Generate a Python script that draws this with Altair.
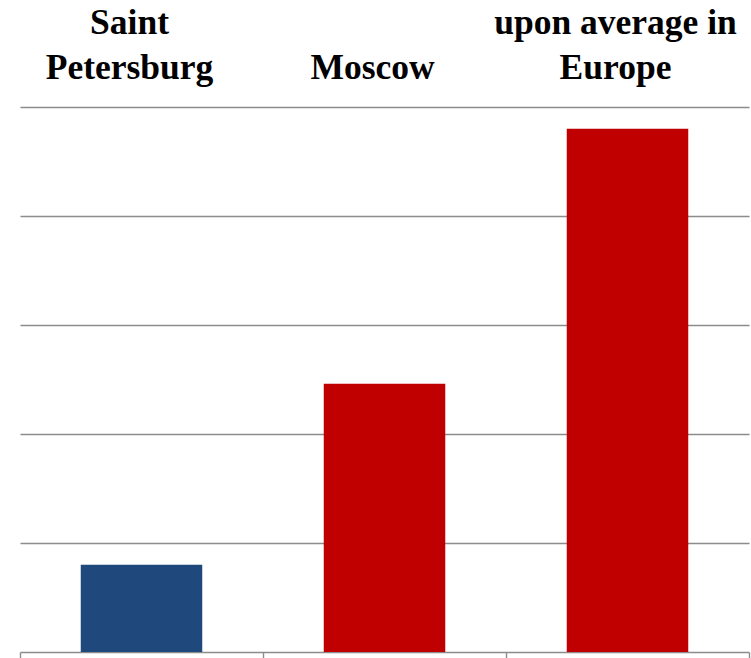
import altair as alt
import pandas as pd

categories = ["Saint|Petersburg", "Moscow", "upon average in|Europe"]
values = [0.80, 2.46, 4.80]
colors = ["#1F497D", "#C00000", "#C00000"]
tick_positions = [0, 1, 2, 3]
grid_values = [1, 2, 3, 4, 5]

df = pd.DataFrame({"cat": categories, "val": values, "color": colors})

y_axis = alt.Axis(
    title=None,
    labels=False,
    ticks=False,
    domain=False,
    values=grid_values,
    grid=True,
    gridColor="#8c8c8c",
    gridWidth=1.6,
)

bars = alt.Chart(df).mark_bar().encode(
    x=alt.X(
        "cat:N",
        sort=categories,
        scale=alt.Scale(paddingInner=0.5, paddingOuter=0.25),
        axis=alt.Axis(
            orient="top",
            title=None,
            ticks=False,
            domain=False,
            labelAngle=0,
            labelExpr="indexof(datum.label, '|') < 0 ? ['', datum.label] : split(datum.label, '|')",
            labelFont="Liberation Serif",
            labelFontWeight="bold",
            labelFontSize=35.5,
            labelColor="#000000",
            labelLineHeight=45,
            labelBaseline="alphabetic",
            labelPadding=74,
            labelOffset=-12,
            labelLimit=0,
        ),
    ),
    y=alt.Y("val:Q", scale=alt.Scale(domain=[0, 5]), axis=y_axis),
    color=alt.Color("color:N", scale=None),
)

base_axis = alt.Chart(df).mark_point(opacity=0).transform_calculate(
    pos="0"
).encode(
    x=alt.X(
        "pos:Q",
        scale=alt.Scale(domain=[0, 3], nice=False, zero=False),
        axis=alt.Axis(
            orient="bottom",
            title=None,
            labels=False,
            values=tick_positions,
            tickSize=7,
            tickColor="#8c8c8c",
            tickWidth=1.4,
            domainColor="#8c8c8c",
            domainWidth=1.6,
            grid=False,
        ),
    ),
    y=alt.Y("val:Q", scale=alt.Scale(domain=[0, 5]), axis=y_axis),
)

chart = alt.layer(bars, base_axis).resolve_scale(x="independent").properties(
    width=729,
    height=545,
    autosize=alt.AutoSizeParams(type="none"),
    padding={"left": 20, "top": 107, "right": 2, "bottom": 6},
    background="#ffffff",
).configure_view(stroke=None)

chart.save("out.html", embed_options={"renderer": "svg", "actions": False})
